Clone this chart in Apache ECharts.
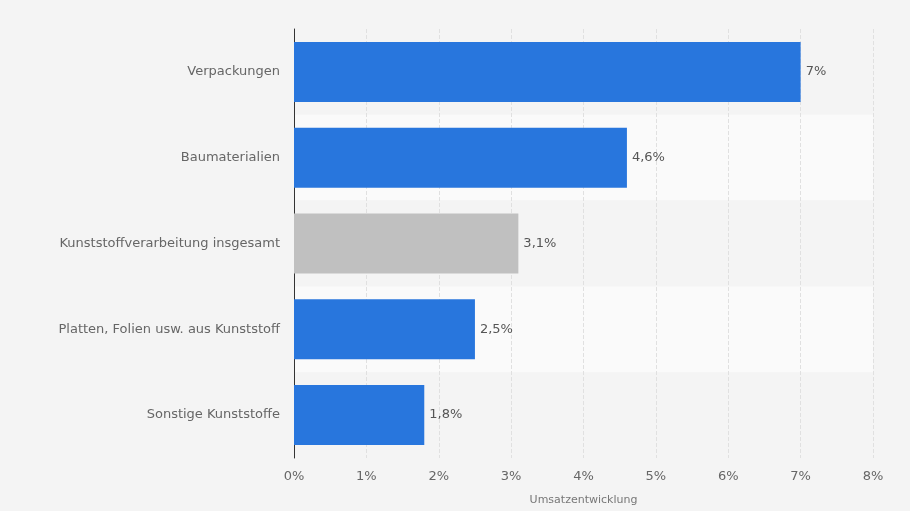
<!DOCTYPE html>
<html><head><meta charset="utf-8">
<script src="https://cdn.jsdelivr.net/npm/echarts@6/dist/echarts.min.js"></script>
<style>html,body{margin:0;background:#f4f4f4}#c{width:910px;height:511px}</style>
</head><body><div id="c"></div>
<script>
// Umsatzentwicklung nach Segment
const categories = ['Verpackungen', 'Baumaterialien', 'Kunststoffverarbeitung insgesamt', 'Platten, Folien usw. aus Kunststoff', 'Sonstige Kunststoffe'];
const values = [7, 4.6, 3.1, 2.5, 1.8];
const highlight = 'Kunststoffverarbeitung insgesamt';

const chart = echarts.init(document.getElementById('c'));
chart.setOption({
    backgroundColor: '#f4f4f4',
    textStyle: { fontFamily: 'DejaVu Sans' },
    grid: { left: 294, right: 37, top: 29, bottom: 45 },
    xAxis: {
        type: 'value', min: 0, max: 8, interval: 1,
        name: 'Umsatzentwicklung', nameLocation: 'middle', nameGap: 37,
        nameTextStyle: { color: '#777', fontSize: 11 },
        axisLabel: { formatter: '{value}%', color: '#666', fontSize: 13, margin: 12 },
        splitLine: { lineStyle: { color: '#e0e0e0', type: [4, 2] } },
        axisLine: { show: false }, axisTick: { show: false }
    },
    yAxis: {
        type: 'category', data: categories, inverse: true,
        axisLabel: { color: '#666', fontSize: 13, margin: 14 },
        axisLine: { lineStyle: { color: '#333', width: 1 } },
        axisTick: { show: false },
        splitArea: { show: true, areaStyle: { color: ['#f4f4f4', '#fafafa'] } }
    },
    series: [{
        type: 'bar', barWidth: 60,
        data: values.map((v, i) => ({
            value: v,
            itemStyle: { color: categories[i] === highlight ? '#c0c0c0' : '#2876dd' }
        })),
        label: {
            show: true, position: 'right', distance: 5, color: '#555', fontSize: 13,
            formatter: p => String(p.value).replace('.', ',') + '%'
        }
    }]
});
</script></body></html>
